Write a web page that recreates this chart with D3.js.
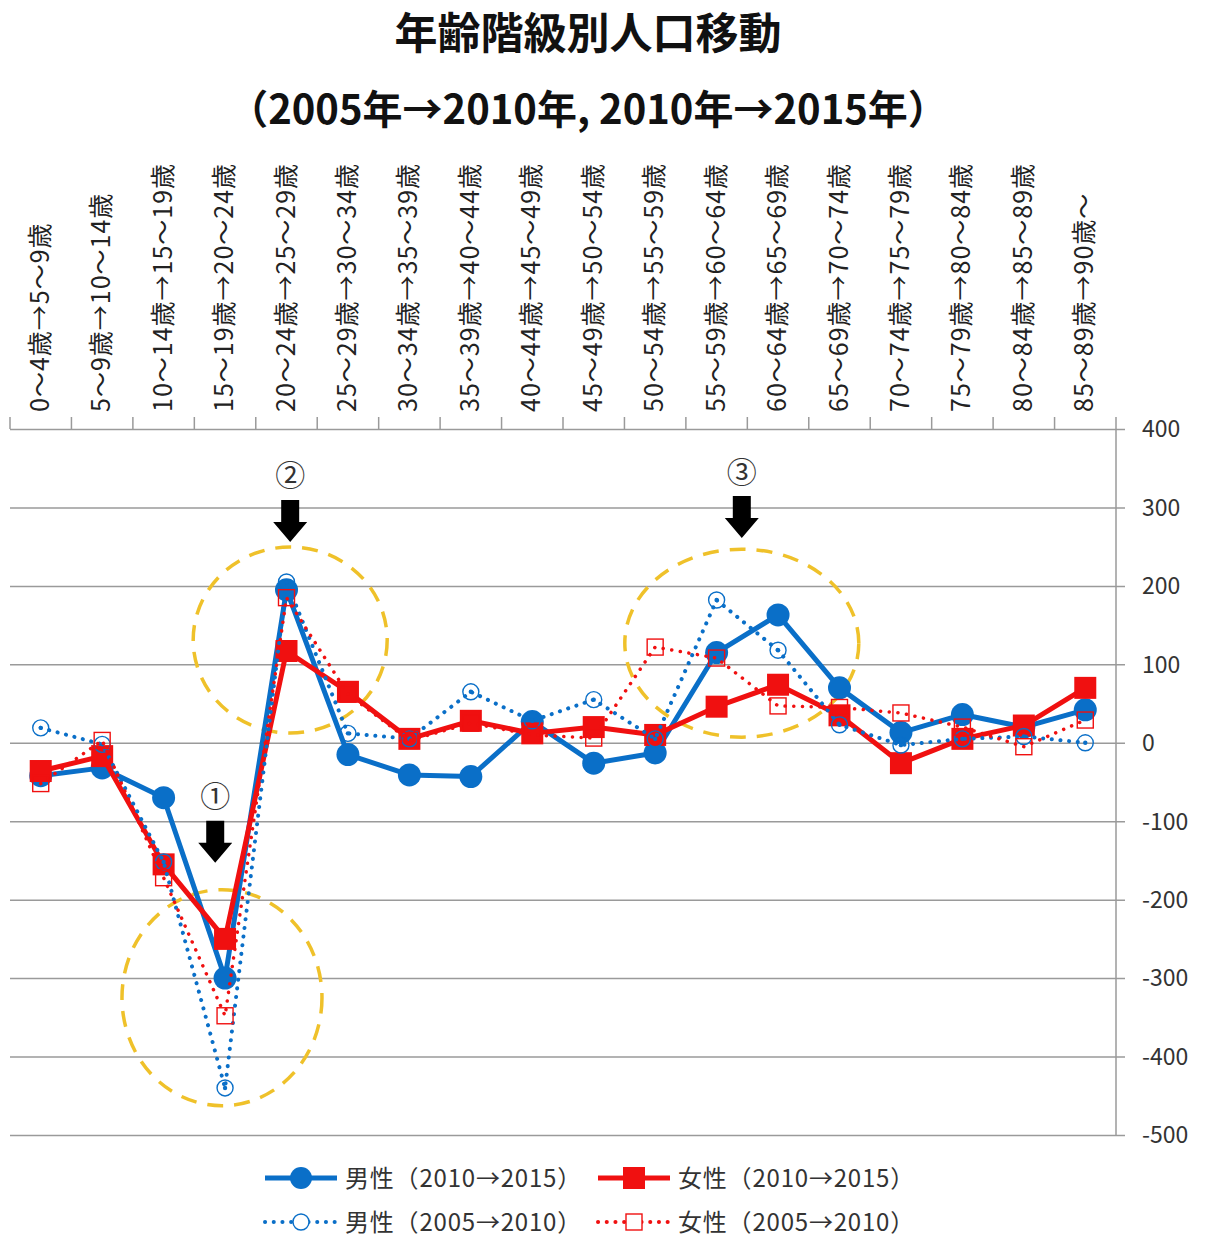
<!DOCTYPE html>
<html>
<head>
<meta charset="utf-8">
<script src="https://cdn.jsdelivr.net/npm/d3@7.9.0/dist/d3.min.js"></script>
<style>
  body { margin: 0; background: #fff; }
  svg { display: block; font-family: "Noto Sans CJK JP", "Noto Sans", sans-serif; }
</style>
</head>
<body>
<svg id="chart" width="1205" height="1239"></svg>
<script>
const categories = [
  '0～4歳→5～9歳', '5～9歳→10～14歳', '10～14歳→15～19歳', '15～19歳→20～24歳',
  '20～24歳→25～29歳', '25～29歳→30～34歳', '30～34歳→35～39歳', '35～39歳→40～44歳',
  '40～44歳→45～49歳', '45～49歳→50～54歳', '50～54歳→55～59歳', '55～59歳→60～64歳',
  '60～64歳→65～69歳', '65～69歳→70～74歳', '70～74歳→75～79歳', '75～79歳→80～84歳',
  '80～84歳→85～89歳', '85～89歳→90歳～'
];
const male1015   = [-42, -32, -70, -300, 195, -15, -41, -43, 27, -26, -13, 115, 163, 70, 13, 36, 20, 42];
const female1015 = [-36, -17, -155, -250, 117, 65, 5, 28, 12, 20, 10, 46, 74, 35, -26, 5, 22, 70];
const male0510   = [19, -2, -152, -440, 205, 12, 5, 65, 28, 55, 5, 182, 118, 23, -3, 5, 8, 0];
const female0510 = [-52, 3, -172, -348, 185, 62, 3, 25, 10, 6, 122, 108, 47, 45, 38, 20, -5, 29];
const yTicks = [400, 300, 200, 100, 0, -100, -200, -300, -400, -500];

const titleLines = ['年齢階級別人口移動', '（2005年→2010年, 2010年→2015年）'];
const legendLabels = ['男性（2010→2015）', '女性（2010→2015）', '男性（2005→2010）', '女性（2005→2010）'];

// annotation spots: category position (fractional index) and value
const rings  = [{ i: 2.95, v: -325, rx: 100, ry: 108 }, { i: 4.06, v: 131, rx: 97, ry: 93 }, { i: 11.41, v: 127, rx: 117, ry: 94 }];
const arrows = [{ i: 2.84, v: -153, n: '①' }, { i: 4.06, v: 256, n: '②' }, { i: 11.41, v: 261, n: '③' }];

const BLUE = '#0a6fc8';
const RED = '#f01010';

const svg = d3.select('#chart');

const x = d3.scaleBand().domain(categories).range([10, 1116]).padding(0);
const y = d3.scaleLinear().domain([-500, 400]).range([1135, 429]);
const cx = (d, idx) => x(categories[idx]) + x.bandwidth() / 2;
const xi = (i) => x.range()[0] + (i + 0.5) * x.step();

// title
svg.selectAll('text.title')
  .data(titleLines)
  .enter().append('text')
  .attr('class', 'title')
  .attr('x', 588)
  .attr('y', (d, i) => 49 + i * 75)
  .attr('text-anchor', 'middle')
  .attr('font-size', (d, i) => i === 0 ? 43 : 40)
  .attr('font-weight', 'bold')
  .attr('fill', '#111')
  .text(d => d);

// gridlines
const grid = svg.append('g').attr('transform', 'translate(1125,0)')
  .call(d3.axisLeft(y).tickValues(yTicks).tickSize(1115).tickFormat(''));
grid.select('.domain').remove();
grid.selectAll('line').attr('stroke', '#9a9a9a').attr('stroke-width', 1.5);

// right value axis
svg.append('line')
  .attr('x1', 1116).attr('x2', 1116)
  .attr('y1', y(400)).attr('y2', y(-500))
  .attr('stroke', '#9a9a9a').attr('stroke-width', 1.5);

svg.append('g').selectAll('text')
  .data(yTicks)
  .enter().append('text')
  .attr('x', 1142)
  .attr('y', d => y(d))
  .attr('dy', '0.36em')
  .attr('font-size', 23)
  .attr('fill', '#333')
  .text(d => d);

// category ticks on the top line
const bounds = categories.map(c => x(c)).concat([x.range()[1]]);
svg.append('g').selectAll('line')
  .data(bounds)
  .enter().append('line')
  .attr('x1', d => d).attr('x2', d => d)
  .attr('y1', y(400) - 12).attr('y2', y(400))
  .attr('stroke', '#9a9a9a').attr('stroke-width', 1.5);

svg.append('g').selectAll('text')
  .data(categories)
  .enter().append('text')
  .attr('transform', (d, i) => `translate(${cx(d, i) + 8},412) rotate(-90)`)
  .attr('font-size', 25)
  .attr('letter-spacing', 1)
  .attr('fill', '#222')
  .text(d => d);

// annotation rings
svg.append('g').selectAll('ellipse')
  .data(rings)
  .enter().append('ellipse')
  .attr('cx', d => xi(d.i))
  .attr('cy', d => y(d.v))
  .attr('rx', d => d.rx)
  .attr('ry', d => d.ry)
  .attr('fill', 'none')
  .attr('stroke', '#efc12a')
  .attr('stroke-width', 3.5)
  .attr('stroke-dasharray', '16 11');

// series
const line = d3.line().x(cx).y(d => y(d));

function drawSeries(vals, color, width, dotted) {
  svg.append('path')
    .datum(vals)
    .attr('d', line)
    .attr('fill', 'none')
    .attr('stroke', color)
    .attr('stroke-width', width)
    .attr('stroke-linecap', dotted ? 'round' : 'butt')
    .attr('stroke-linejoin', 'round')
    .attr('stroke-dasharray', dotted ? '0.1 8.6' : null);
}

drawSeries(male1015, BLUE, 5, false);
svg.append('g').selectAll('circle')
  .data(male1015)
  .enter().append('circle')
  .attr('cx', cx).attr('cy', d => y(d))
  .attr('r', 11.5)
  .attr('fill', BLUE);

drawSeries(female1015, RED, 5, false);
svg.append('g').selectAll('rect')
  .data(female1015)
  .enter().append('rect')
  .attr('x', (d, i) => cx(d, i) - 11).attr('y', d => y(d) - 11)
  .attr('width', 22).attr('height', 22)
  .attr('fill', RED);

drawSeries(male0510, BLUE, 4, true);
const m05 = svg.append('g').selectAll('g')
  .data(male0510)
  .enter().append('g')
  .attr('transform', (d, i) => `translate(${cx(d, i)},${y(d)})`);
m05.append('circle').attr('r', 8).attr('fill', 'none').attr('stroke', BLUE).attr('stroke-width', 1.4);
m05.append('circle').attr('r', 2.2).attr('fill', BLUE);

drawSeries(female0510, RED, 3.5, true);
svg.append('g').selectAll('rect')
  .data(female0510)
  .enter().append('rect')
  .attr('x', (d, i) => cx(d, i) - 8).attr('y', d => y(d) - 8)
  .attr('width', 16).attr('height', 16)
  .attr('fill', 'none')
  .attr('stroke', RED).attr('stroke-width', 1.4);

// arrows with circled numbers
const arrowPath = 'M-9,-42 L9,-42 L9,-20 L17,-20 L0,0 L-17,-20 L-9,-20 Z';
const arr = svg.append('g').selectAll('g')
  .data(arrows)
  .enter().append('g')
  .attr('transform', d => `translate(${xi(d.i)},${y(d.v)})`);
arr.append('path').attr('d', arrowPath).attr('fill', '#000');
arr.append('text')
  .attr('y', -66)
  .attr('dy', '0.35em')
  .attr('text-anchor', 'middle')
  .attr('font-size', 30)
  .attr('fill', '#333')
  .text(d => d.n);

// legend
const legendItems = [
  { label: legendLabels[0], color: BLUE, dotted: false, mark: 'circle', x: 265, y: 1178 },
  { label: legendLabels[1], color: RED, dotted: false, mark: 'square', x: 598, y: 1178 },
  { label: legendLabels[2], color: BLUE, dotted: true, mark: 'ocircle', x: 265, y: 1222 },
  { label: legendLabels[3], color: RED, dotted: true, mark: 'osquare', x: 598, y: 1222 }
];
const lg = svg.append('g').selectAll('g')
  .data(legendItems)
  .enter().append('g')
  .attr('transform', d => `translate(${d.x},${d.y})`);
lg.append('line')
  .attr('x1', 0).attr('x2', 72)
  .attr('stroke', d => d.color)
  .attr('stroke-width', d => d.dotted ? 4 : 5)
  .attr('stroke-linecap', d => d.dotted ? 'round' : 'butt')
  .attr('stroke-dasharray', d => d.dotted ? '0.1 8.6' : null);
lg.each(function(d) {
  const g = d3.select(this);
  if (d.mark === 'circle') g.append('circle').attr('cx', 36).attr('r', 11).attr('fill', d.color);
  if (d.mark === 'square') g.append('rect').attr('x', 25).attr('y', -11).attr('width', 22).attr('height', 22).attr('fill', d.color);
  if (d.mark === 'ocircle') g.append('circle').attr('cx', 36).attr('r', 8).attr('fill', '#fff').attr('stroke', d.color).attr('stroke-width', 1.4);
  if (d.mark === 'osquare') g.append('rect').attr('x', 28).attr('y', -8).attr('width', 16).attr('height', 16).attr('fill', '#fff').attr('stroke', d.color).attr('stroke-width', 1.4);
});
lg.append('text')
  .attr('x', 80)
  .attr('dy', '0.36em')
  .attr('font-size', 24)
  .attr('letter-spacing', 0.8)
  .attr('fill', '#333')
  .text(d => d.label);
</script>
</body>
</html>
